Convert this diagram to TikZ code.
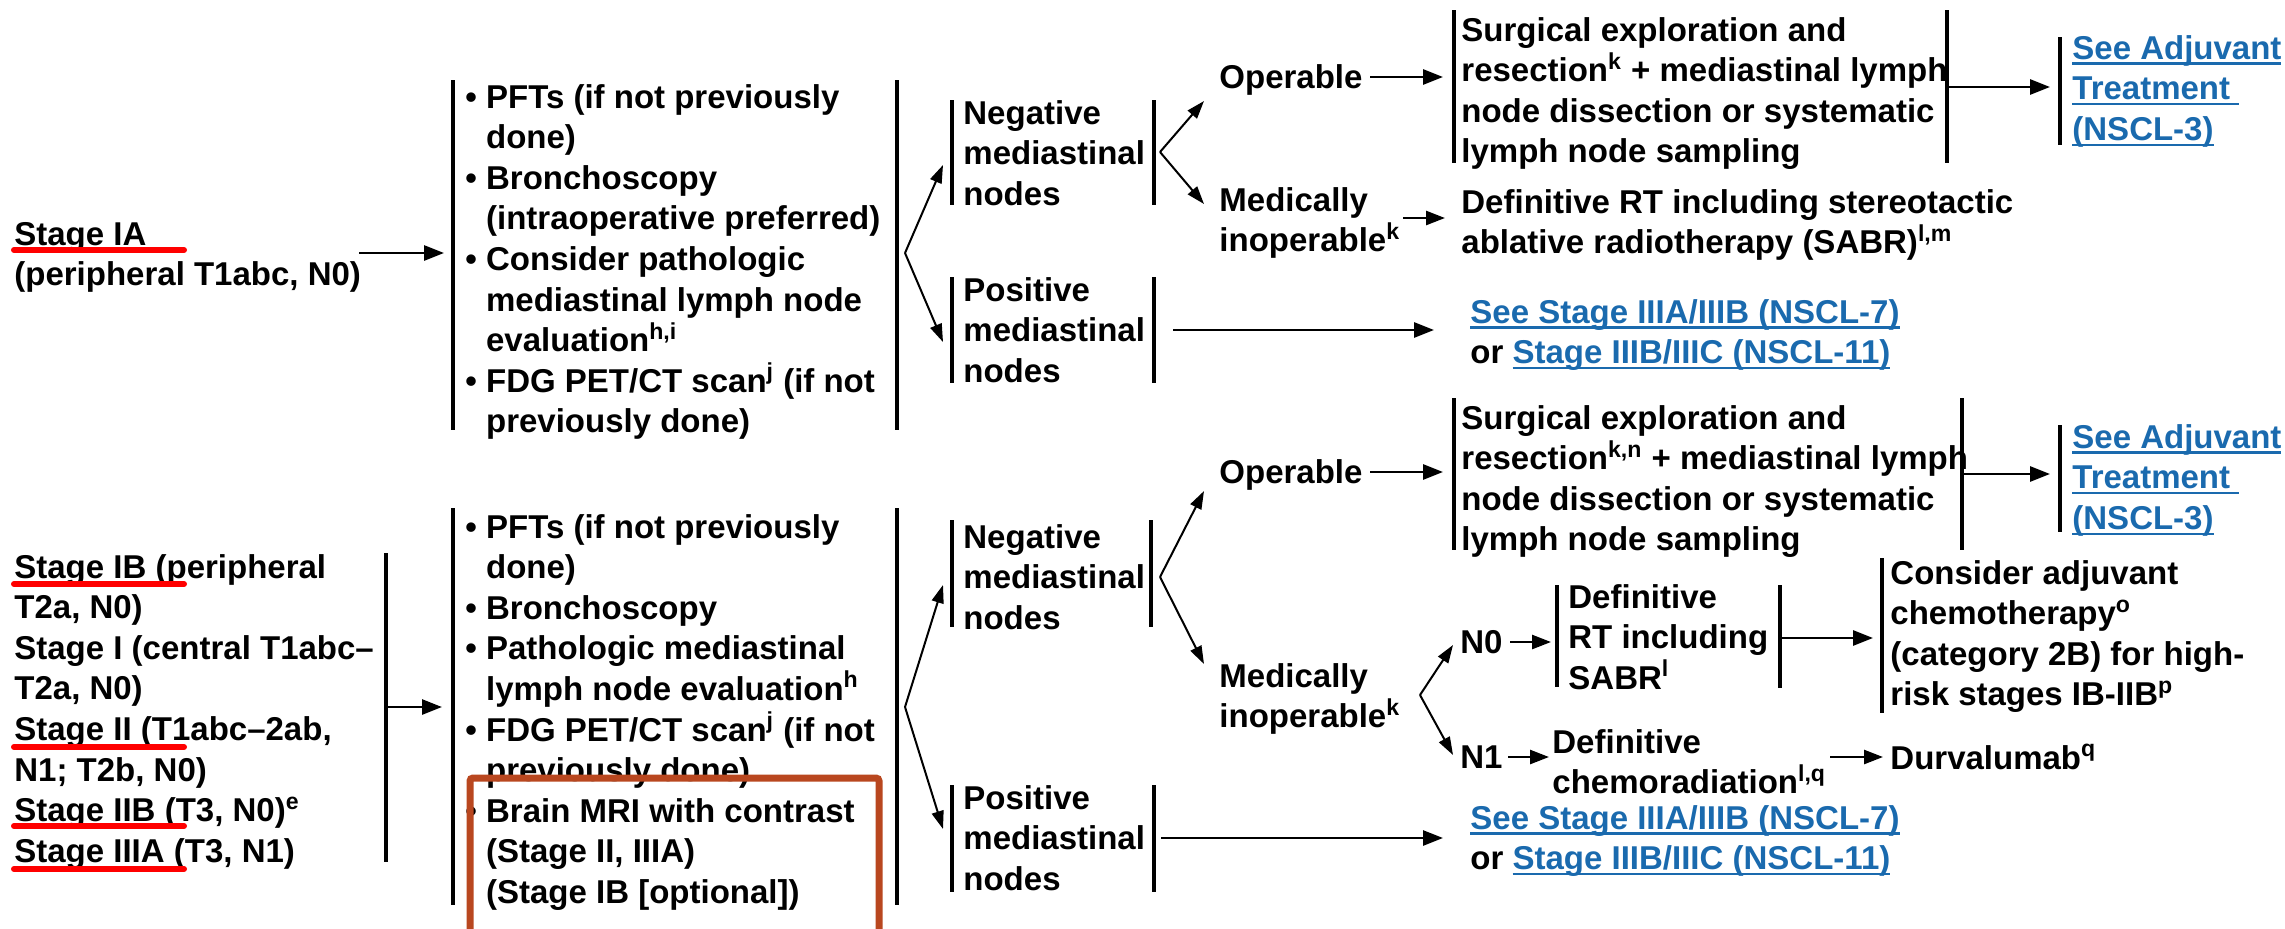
\documentclass[tikz,border=0pt]{standalone}
\usepackage{fontspec}
\setmainfont{Liberation Sans}
\usetikzlibrary{arrows.meta}
\definecolor{linkblue}{HTML}{1A6AAE}
\definecolor{boxorange}{HTML}{B9471F}
\newcommand{\bph}{\phantom{\textbullet\ }}
\newsavebox{\ulbox}
\newcommand{\uln}[1]{\sbox{\ulbox}{#1}\rlap{\rule[-2.8pt]{\wd\ulbox}{1.1pt}}\usebox{\ulbox}}
\newcommand{\lnk}[1]{{\color{linkblue}\uln{#1}}}
\begin{document}
\begin{tikzpicture}[x=0.5pt,y=-0.5pt,
  txt/.style={anchor=base west, inner sep=0pt, align=left, font=\fontsize{16.5pt}{20.3pt}\selectfont\bfseries},
  L/.style={yshift=-#1*20.3pt},
  bar/.style={line width=1.6pt},
  harr/.style={line width=1.4pt,-{Triangle[length=10pt,width=7.5pt]}},
  sarr/.style={line width=1.3pt,-{Triangle[length=9.5pt,width=7pt]}},
  darr/.style={line width=1pt,-{Triangle[length=9pt,width=6pt]}},
  redline/.style={line width=3pt,red,line cap=round},
  hlbox/.style={line width=3.5pt,draw=boxorange,rounded corners=1.5pt},
]
\fill[white] (0,0) rectangle (2285,928);
\useasboundingbox (0,0) rectangle (2285,928);

% ---------------- top section: Stage IA ----------------
\node[txt,L=1] (sIA) at (14,245) {\uln{Stage IA}\\(peripheral T1abc, N0)};
\node[txt,L=8] (bul1) at (465,108) {\textbullet\ PFTs (if not previously\\
\bph done)\\
\textbullet\ Bronchoscopy\\
\bph (intraoperative preferred)\\
\textbullet\ Consider pathologic\\
\bph mediastinal lymph node\\
\bph evaluation\textsuperscript{h,i}\\
\textbullet\ FDG PET/CT scan\textsuperscript{j} (if not\\
\bph previously done)};
\node[txt,L=2] (neg1) at (963,124) {Negative\\mediastinal\\nodes};
\node[txt,L=2] (pos1) at (963,301) {Positive\\mediastinal\\nodes};
\node[txt] (op1) at (1219,88) {Operable};
\node[txt,L=1] (mi1) at (1219,211) {Medically\\inoperable\textsuperscript{k}};
\node[txt,L=3] (sg1) at (1461,41) {Surgical exploration and\\resection\textsuperscript{k} + mediastinal lymph\\node dissection or systematic\\lymph node sampling};
\node[txt,L=1] (rt1) at (1461,213) {Definitive RT including stereotactic\\ablative radiotherapy (SABR)\textsuperscript{l,m}};
\node[txt,L=2] (adj1) at (2072,59) {\lnk{See Adjuvant}\\\lnk{Treatment\ }\\\lnk{(NSCL-3)}};
\node[txt,L=1] (see1) at (1470,323) {\lnk{See Stage IIIA/IIIB (NSCL-7)}\\or \lnk{Stage IIIB/IIIC (NSCL-11)}};

% bars (box borders)
\draw[bar] (453,80) -- (453,430);
\draw[bar] (897,80) -- (897,430);
\draw[bar] (952,100) -- (952,205);
\draw[bar] (1154,100) -- (1154,205);
\draw[bar] (952,277) -- (952,383);
\draw[bar] (1154,277) -- (1154,383);
\draw[bar] (1454,10) -- (1454,163);
\draw[bar] (1947,10) -- (1947,163);
\draw[bar] (2060,37) -- (2060,145);

% connectors
\coordinate (t1s) at (359,253);   \coordinate (t1e) at (444,253);
\coordinate (tb1) at (905,253);   \coordinate (tneg) at (943,165); \coordinate (tpos) at (943,342);
\coordinate (tb2) at (1160,152);  \coordinate (top) at (1204,101); \coordinate (tmi) at (1204,204);
\coordinate (top1s) at (1370,77); \coordinate (top1e) at (1443,77);
\coordinate (tmis) at (1403,218); \coordinate (tmie) at (1445,218);
\coordinate (tsgs) at (1948,87);  \coordinate (tsge) at (2050,87);
\coordinate (tps) at (1173,330);  \coordinate (tpe) at (1434,330);
\draw[harr] (t1s) -- (t1e);
\draw[darr] (tb1) -- (tneg);
\draw[darr] (tb1) -- (tpos);
\draw[darr] (tb2) -- (top);
\draw[darr] (tb2) -- (tmi);
\draw[harr] (top1s) -- (top1e);
\draw[sarr] (tmis) -- (tmie);
\draw[harr] (tsgs) -- (tsge);
\draw[harr] (tps) -- (tpe);

% ---------------- bottom section ----------------
\node[txt,L=7] (s2) at (14,578) {\uln{Stage IB} (peripheral\\
T2a, N0)\\
Stage I (central T1abc–\\
T2a, N0)\\
\uln{Stage II} (T1abc–2ab,\\
N1; T2b, N0)\\
\uln{Stage IIB} (T3, N0)\textsuperscript{e}\\
\uln{Stage IIIA} (T3, N1)};
\node[txt,L=9] (bul2) at (465,538) {\textbullet\ PFTs (if not previously\\
\bph done)\\
\textbullet\ Bronchoscopy\\
\textbullet\ Pathologic mediastinal\\
\bph lymph node evaluation\textsuperscript{h}\\
\textbullet\ FDG PET/CT scan\textsuperscript{j} (if not\\
\bph previously done)\\
\textbullet\ Brain MRI with contrast\\
\bph (Stage II, IIIA)\\
\bph (Stage IB [optional])};
\node[txt,L=2] (neg2) at (963,548) {Negative\\mediastinal\\nodes};
\node[txt,L=2] (pos2) at (963,809) {Positive\\mediastinal\\nodes};
\node[txt] (op2) at (1219,483) {Operable};
\node[txt,L=1] (mi2) at (1219,687) {Medically\\inoperable\textsuperscript{k}};
\node[txt,L=3] (sg2) at (1461,429) {Surgical exploration and\\resection\textsuperscript{k,n} + mediastinal lymph\\node dissection or systematic\\lymph node sampling};
\node[txt,L=2] (adj2) at (2072,448) {\lnk{See Adjuvant}\\\lnk{Treatment\ }\\\lnk{(NSCL-3)}};
\node[txt] (n0) at (1460,653) {N0};
\node[txt,L=2] (rt2) at (1568,608) {Definitive\\RT including\\SABR\textsuperscript{l}};
\node[txt,L=3] (cons) at (1890,584) {Consider adjuvant\\chemotherapy\textsuperscript{o}\\(category 2B) for high-\\risk stages IB-IIB\textsuperscript{p}};
\node[txt] (n1) at (1460,768) {N1};
\node[txt,L=1] (chemo) at (1552,753) {Definitive\\chemoradiation\textsuperscript{l,q}};
\node[txt] (durva) at (1890,769) {Durvalumab\textsuperscript{q}};
\node[txt,L=1] (see2) at (1470,829) {\lnk{See Stage IIIA/IIIB (NSCL-7)}\\or \lnk{Stage IIIB/IIIC (NSCL-11)}};

% bars
\draw[bar] (386,553) -- (386,862);
\draw[bar] (453,508) -- (453,905);
\draw[bar] (897,508) -- (897,905);
\draw[bar] (952,520) -- (952,627);
\draw[bar] (1151,520) -- (1151,627);
\draw[bar] (952,785) -- (952,892);
\draw[bar] (1154,785) -- (1154,892);
\draw[bar] (1454,398) -- (1454,550);
\draw[bar] (1962,398) -- (1962,550);
\draw[bar] (2060,425) -- (2060,532);
\draw[bar] (1557,585) -- (1557,687);
\draw[bar] (1780,585) -- (1780,688);
\draw[bar] (1882,558) -- (1882,713);

% connectors
\coordinate (b1s) at (387,707);   \coordinate (b1e) at (442,707);
\coordinate (bb1) at (905,707);   \coordinate (bneg) at (943,585); \coordinate (bpos) at (943,829);
\coordinate (bb2) at (1160,577);  \coordinate (bop) at (1204,491); \coordinate (bmi) at (1204,664);
\coordinate (bop1s) at (1370,472); \coordinate (bop1e) at (1443,472);
\coordinate (bsgs) at (1962,474); \coordinate (bsge) at (2050,474);
\coordinate (bb3) at (1420,695);  \coordinate (bn0) at (1453,645); \coordinate (bn1) at (1453,755);
\coordinate (n0s) at (1510,642);  \coordinate (n0e) at (1551,642);
\coordinate (rts) at (1780,638);  \coordinate (rte) at (1873,638);
\coordinate (n1s) at (1508,757);  \coordinate (n1e) at (1549,757);
\coordinate (chs) at (1830,757);  \coordinate (che) at (1883,757);
\coordinate (bps) at (1161,838);  \coordinate (bpe) at (1443,838);
\draw[harr] (b1s) -- (b1e);
\draw[darr] (bb1) -- (bneg);
\draw[darr] (bb1) -- (bpos);
\draw[darr] (bb2) -- (bop);
\draw[darr] (bb2) -- (bmi);
\draw[harr] (bop1s) -- (bop1e);
\draw[harr] (bsgs) -- (bsge);
\draw[darr] (bb3) -- (bn0);
\draw[darr] (bb3) -- (bn1);
\draw[sarr] (n0s) -- (n0e);
\draw[harr] (rts) -- (rte);
\draw[sarr] (n1s) -- (n1e);
\draw[sarr] (chs) -- (che);
\draw[harr] (bps) -- (bpe);

% red hand-drawn underlines
\draw[redline] (14,250) -- (184,250);
\draw[redline] (14,584) -- (184,584);
\draw[redline] (14,747) -- (184,747);
\draw[redline] (14,826) -- (184,826);
\draw[redline] (14,869) -- (184,869);

% orange highlight box
\draw[hlbox] (470,778) rectangle (879,945);
\end{tikzpicture}
\end{document}
